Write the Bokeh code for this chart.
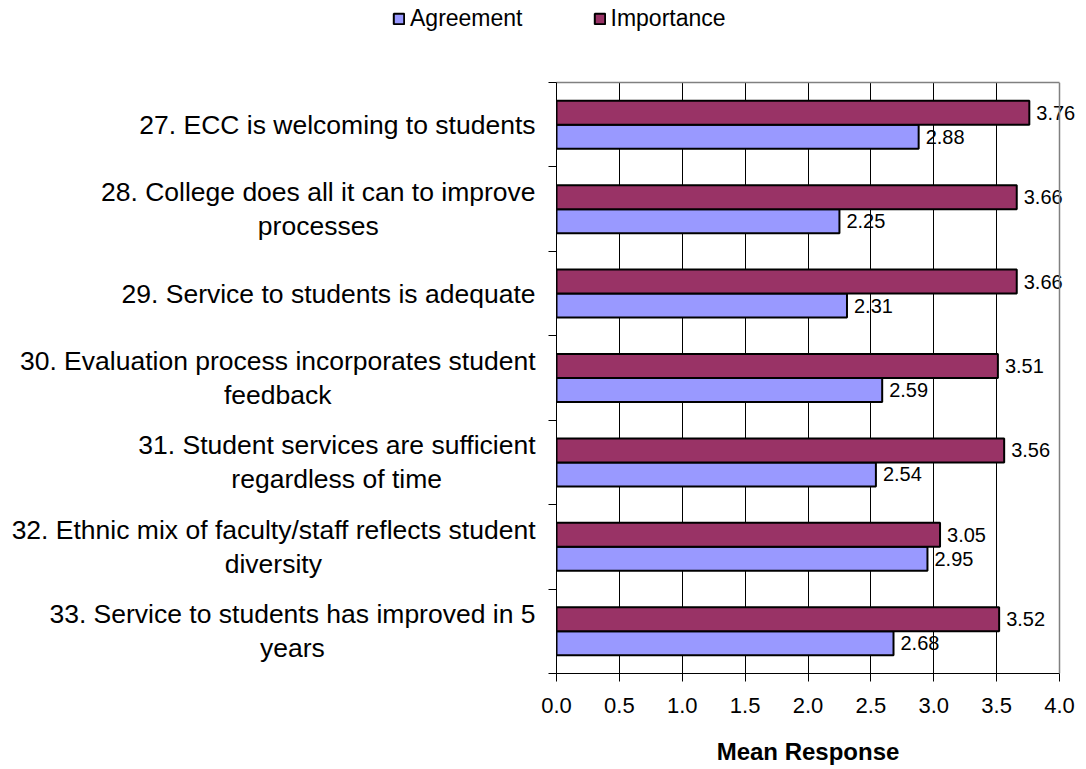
from bokeh.plotting import figure
from bokeh.layouts import column, row
from bokeh.models import (ColumnDataSource, Range1d, FixedTicker, NumeralTickFormatter,
                          LabelSet, Legend, LegendItem, LinearAxis, Span)
from bokeh.core.properties import value
from bokeh.embed import file_html
from bokeh.resources import INLINE

# ---------------- data ----------------
categories = [
    "27. ECC is welcoming to students",
    "28. College does all it can to improve\nprocesses",
    "29. Service to students is adequate",
    "30. Evaluation process incorporates student\nfeedback",
    "31. Student services are sufficient\nregardless of time",
    "32. Ethnic mix of faculty/staff reflects student\ndiversity",
    "33. Service to students has improved in 5\nyears",
]
agreement = [2.88, 2.25, 2.31, 2.59, 2.54, 2.95, 2.68]
importance = [3.76, 3.66, 3.66, 3.51, 3.56, 3.05, 3.52]
x_ticks = [0.0, 0.5, 1.0, 1.5, 2.0, 2.5, 3.0, 3.5, 4.0]
series_names = ["Agreement", "Importance"]
x_title = "Mean Response"

# ---------------- layout constants ----------------
FONT = "Liberation Sans"
W, H = 1086, 769
LEG_H = 60                       # height of legend strip
TIT_H = 40                       # height of axis-title strip
FRAME_L, FRAME_R = 556, 1059     # pixel x of 0.0 and 4.0
FRAME_T, FRAME_B = 82, 673
MID_H = H - LEG_H - TIT_H
LAB_W = 536                      # width of the category-label figure
AX_W = FRAME_L - LAB_W           # room for the y axis ticks
LAB_RIGHT = 535                  # right edge of category labels (pixels in label fig)
TITLE_CY = 751                   # vertical centre of axis title (page pixels)
cat_font = 26.5
title_font = 24
leg_font = 23
AGREE_COLOR = "#9999FF"
IMP_COLOR = "#993366"

n = len(categories)
frame_h = FRAME_B - FRAME_T
ppu = frame_h / n
bar_h = 24 / ppu
x_ppu = (FRAME_R - FRAME_L) / 4.0
x_end = 4.0 + (W - FRAME_R) / x_ppu

# Arial / Liberation Sans advance widths (per 1000 em)
_w = {" ": 278, ".": 278, "/": 278, ",": 278, "-": 333}
for d in "0123456789":
    _w[d] = 556
_w.update(dict(A=667, B=667, C=722, D=722, E=667, F=611, G=778, H=722, I=278, J=500, K=667,
               L=556, M=833, N=722, O=778, P=667, Q=778, R=722, S=667, T=611, U=722, V=667,
               W=944, X=667, Y=667, Z=611, a=556, b=556, c=500, d=556, e=556, f=278, g=556,
               h=556, i=222, j=222, k=500, l=222, m=833, n=556, o=556, p=556, q=556, r=333,
               s=500, t=278, u=556, v=500, w=722, x=500, y=500, z=500))


def text_width(s, size, table=_w):
    return sum(table.get(ch, 556) for ch in s) / 1000.0 * size


centers = [n - i - 0.5 for i in range(n)]
y_range = Range1d(0, n)

src = ColumnDataSource(dict(
    agree=agreement,
    imp=importance,
    y_imp=[c + bar_h / 2 for c in centers],
    y_agr=[c - bar_h / 2 for c in centers],
    agree_lbl=["%.2f" % v for v in agreement],
    imp_lbl=["%.2f" % v for v in importance],
))

# ---------------- main chart ----------------
p = figure(width=W - LAB_W, height=MID_H, output_backend="svg", toolbar_location=None,
           x_range=Range1d(0, x_end), y_range=y_range,
           min_border_left=AX_W, min_border_right=0,
           min_border_top=FRAME_T - LEG_H, min_border_bottom=LEG_H + MID_H - FRAME_B)
p.outline_line_color = None
p.background_fill_color = "white"
p.border_fill_color = "white"

r_agr = p.hbar(y="y_agr", right="agree", left=0, height=bar_h, source=src,
               fill_color=AGREE_COLOR, line_color="black", line_width=2)
r_imp = p.hbar(y="y_imp", right="imp", left=0, height=bar_h, source=src,
               fill_color=IMP_COLOR, line_color="black", line_width=2)

for col, ycol in (("agree", "y_agr"), ("imp", "y_imp")):
    p.add_layout(LabelSet(x=col, y=ycol, text=col + "_lbl", source=src, x_offset=7,
                          text_baseline="middle", text_align="left",
                          text_font=value(FONT), text_font_size="20px", text_color="black"))

xa = p.xaxis[0]
xa.bounds = (0, 4)
xa.ticker = FixedTicker(ticks=x_ticks)
xa.formatter = NumeralTickFormatter(format="0.0")
xa.axis_line_color = "black"
xa.major_tick_line_color = "black"
xa.major_tick_out = 8
xa.major_tick_in = 0
xa.minor_tick_line_color = None
xa.major_label_text_font = FONT
xa.major_label_text_font_size = "22px"
xa.major_label_text_color = "black"
xa.major_label_standoff = 16

ya = p.yaxis[0]
ya.ticker = FixedTicker(ticks=list(range(n + 1)))
ya.axis_line_color = "black"
ya.major_tick_line_color = "black"
ya.major_tick_out = 8
ya.major_tick_in = 0
ya.minor_tick_line_color = None
ya.major_label_overrides = {i: "" for i in range(n + 1)}
ya.major_label_standoff = 0

# gray frame border on top and right
top_axis = LinearAxis(bounds=(0, 4), ticker=FixedTicker(ticks=[]),
                      axis_line_color="#808080", axis_line_width=1.5,
                      major_tick_line_color=None, minor_tick_line_color=None,
                      major_label_standoff=0)
p.add_layout(top_axis, "above")
p.add_layout(Span(location=4, dimension="height", line_color="#808080", line_width=1.5))

p.ygrid.grid_line_color = None
p.xgrid.ticker = FixedTicker(ticks=x_ticks[1:-1])
p.xgrid.grid_line_color = "black"
p.xgrid.grid_line_width = 1

# ---------------- category label panel ----------------
lp = figure(width=LAB_W, height=MID_H, output_backend="svg", toolbar_location=None,
            x_range=Range1d(0, LAB_W), y_range=y_range,
            min_border_left=0, min_border_right=0,
            min_border_top=FRAME_T - LEG_H, min_border_bottom=LEG_H + MID_H - FRAME_B)
lp.axis.visible = False
lp.grid.visible = False
lp.outline_line_color = None

line_gap = 17 / ppu
first_x, first_y, first_t = [], [], []
second_x, second_y, second_t = [], [], []
for c, label in zip(centers, categories):
    lines = label.split("\n")
    if len(lines) == 1:
        first_x.append(LAB_RIGHT); first_y.append(c); first_t.append(lines[0])
    else:
        w1 = text_width(lines[0], cat_font)
        first_x.append(LAB_RIGHT); first_y.append(c + line_gap); first_t.append(lines[0])
        second_x.append(LAB_RIGHT - w1 / 2); second_y.append(c - line_gap); second_t.append(lines[1])

lp.text(x=first_x, y=first_y, text=first_t, text_align="right", text_baseline="middle",
        text_font=value(FONT), text_font_size=f"{cat_font}px", text_color="black")
lp.text(x=second_x, y=second_y, text=second_t, text_align="center", text_baseline="middle",
        text_font=value(FONT), text_font_size=f"{cat_font}px", text_color="black")

# ---------------- legend strip ----------------
gp = figure(width=W, height=LEG_H, output_backend="svg", toolbar_location=None,
            x_range=Range1d(0, W), y_range=Range1d(0, LEG_H), min_border=0)
gp.axis.visible = False
gp.grid.visible = False
gp.outline_line_color = None
# hidden proxies that only supply the legend swatches
g_agr = gp.hbar(y=[30], left=[0], right=[1], height=1, fill_color=AGREE_COLOR,
                line_color="black", line_width=2, visible=False)
g_imp = gp.hbar(y=[30], left=[0], right=[1], height=1, fill_color=IMP_COLOR,
                line_color="black", line_width=2, visible=False)
LEG_X = 392
GLYPH = 13
STANDOFF = 5
item1_w = GLYPH + STANDOFF + text_width(series_names[0], leg_font)
legend = Legend(items=[LegendItem(label=series_names[0], renderers=[g_agr]),
                       LegendItem(label=series_names[1], renderers=[g_imp])],
                orientation="horizontal", location=(LEG_X, LEG_H - 32),
                glyph_width=GLYPH, glyph_height=GLYPH, label_standoff=STANDOFF,
                spacing=int(round(592 - LEG_X - item1_w)),
                padding=0, margin=0, border_line_alpha=0, background_fill_alpha=0,
                inactive_fill_alpha=0,
                label_text_font=FONT, label_text_font_size=f"{leg_font}px",
                label_text_color="black")
gp.add_layout(legend, "center")

# ---------------- axis title strip ----------------
bp = figure(width=W, height=TIT_H, output_backend="svg", toolbar_location=None,
            x_range=Range1d(0, W), y_range=Range1d(0, TIT_H), min_border=0)
bp.axis.visible = False
bp.grid.visible = False
bp.outline_line_color = None
bp.text(x=[(FRAME_L + FRAME_R) / 2], y=[H - TITLE_CY], text=[x_title],
        text_align="center", text_baseline="middle", text_font=value(FONT),
        text_font_size=f"{title_font}px", text_font_style="bold", text_color="black")

layout = column(gp, row(lp, p, spacing=0), bp, spacing=0)
open("out.html", "w").write(file_html(layout, INLINE))
